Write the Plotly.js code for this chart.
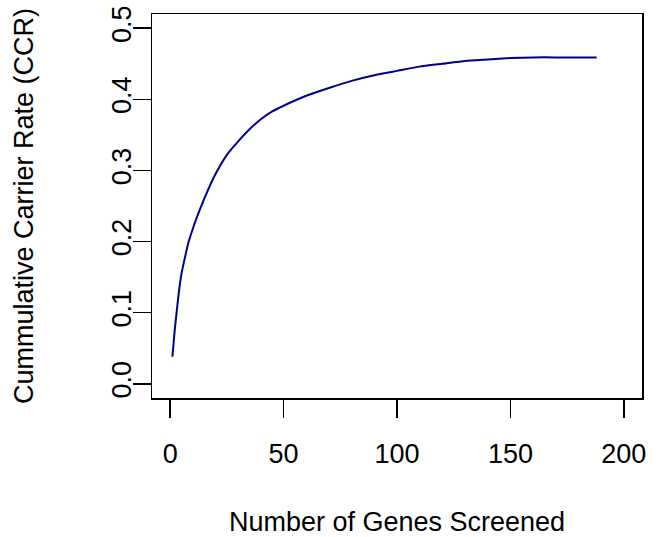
<!DOCTYPE html>
<html>
<head>
<meta charset="utf-8">
<script src="https://cdn.plot.ly/plotly-3.0.1.min.js"></script>
<style>html,body{margin:0;padding:0;background:#fff;}</style>
</head>
<body>
<div id="chart" style="width:664px;height:537px;"></div>
<script>
const genes = [1,2,3,4,5,6,8,10,12,15,18,20,25,30,35,40,45,50,60,70,80,90,100,110,120,130,140,150,160,170,180,188];
const ccr = [0.038,0.075,0.105,0.133,0.155,0.170,0.198,0.218,0.236,0.260,0.282,0.295,0.322,0.341,0.358,0.372,0.383,0.391,0.405,0.416,0.426,0.434,0.440,0.446,0.450,0.454,0.456,0.458,0.459,0.459,0.459,0.459];
const xTicks = [0,50,100,150,200];
const yTicks = [0.0,0.1,0.2,0.3,0.4,0.5];
const yTickText = ["0.0","0.1","0.2","0.3","0.4","0.5"];

const font = "Liberation Sans, Arial, Helvetica, sans-serif";
const trace = {
  x: genes, y: ccr, type: 'scatter', mode: 'lines',
  line: {color: '#00008B', width: 2, shape: 'spline', smoothing: 0.4},
  hoverinfo: 'none'
};
const layout = {
  width: 664, height: 537,
  margin: {l: 152, r: 22, t: 14, b: 139},
  paper_bgcolor: '#fff', plot_bgcolor: '#fff',
  showlegend: false,
  font: {family: font, size: 27, color: '#000'},
  xaxis: {
    range: [-8, 208], tickvals: xTicks, ticktext: xTicks.map(String),
    ticks: 'outside', ticklen: 18, tickwidth: 1.5, tickcolor: '#000',
    showline: true, linecolor: '#000', linewidth: 1.5, mirror: true,
    showgrid: false, zeroline: false,
    tickfont: {family: font, size: 27, color: '#000'},
    ticklabelstandoff: 13,
    title: {text: 'Number of Genes Screened', font: {family: font, size: 27, color: '#000'}, standoff: 51},
    automargin: false
  },
  yaxis: {
    range: [-0.02, 0.52], tickvals: yTicks, ticktext: yTickText,
    ticks: 'outside', ticklen: 18, tickwidth: 1.5, tickcolor: '#000',
    showline: true, linecolor: '#000', linewidth: 1.5, mirror: true,
    showgrid: false, zeroline: false, tickangle: -90,
    tickfont: {family: font, size: 27, color: '#000'},
    ticklabelstandoff: -9,
    title: {text: 'Cummulative Carrier Rate (CCR)', font: {family: font, size: 27, color: '#000'}, standoff: 65},
    automargin: false
  }
};
Plotly.newPlot('chart', [trace], layout, {displayModeBar: false, staticPlot: true});
</script>
</body>
</html>
